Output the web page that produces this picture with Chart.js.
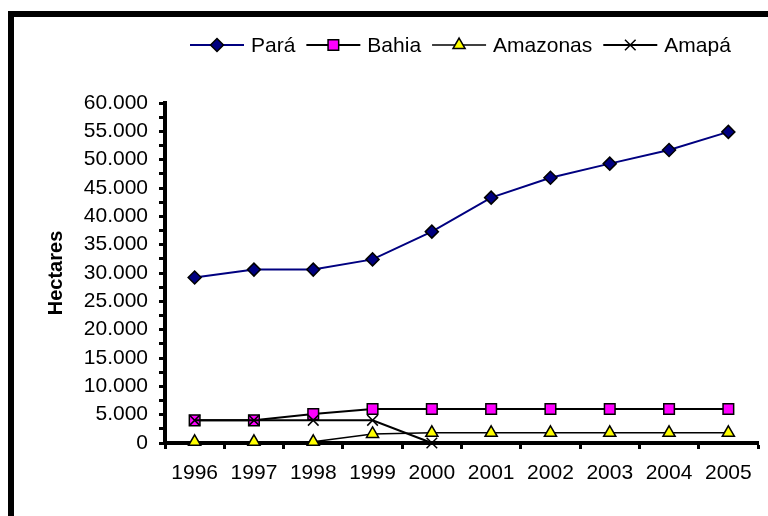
<!DOCTYPE html>
<html>
<head>
<meta charset="utf-8">
<script src="https://cdn.jsdelivr.net/npm/chart.js@4/dist/chart.umd.min.js"></script>
<style>
  html, body { margin: 0; padding: 0; background: #fff; }
  #chart { display: block; }
</style>
</head>
<body>
<canvas id="chart" width="768" height="516"></canvas>
<script>
const years = ["1996", "1997", "1998", "1999", "2000", "2001", "2002", "2003", "2004", "2005"]
const para = [29200, 30600, 30600, 32400, 37300, 43300, 46800, 49300, 51700, 54900]
const bahia = [4000, 4000, 5100, 6000, 6000, 6000, 6000, 6000, 6000, 6000]
const amazonas = [200, 200, 200, 1600, 1800, 1800, 1800, 1800, 1800, 1800]
const amapa = [4000, 4000, 4000, 4000, 0, null, null, null, null, null]
const yMax = 60000
const yStep = 2500
const yLabelStep = 5000

Chart.defaults.font.family = "'Liberation Sans', Arial, sans-serif"
Chart.defaults.font.size = 21
Chart.defaults.color = "#000"

function fmt(v) {
  return String(v).replace(/\B(?=(\d{3})+(?!\d))/g, ".")
}

// frame round the whole chart (cut off on the right and bottom)
const framePlugin = {
  id: "frame",
  beforeDraw(chart) {
    const ctx = chart.ctx
    ctx.save()
    ctx.fillStyle = "#fff"
    ctx.fillRect(0, 0, chart.width, chart.height)
    ctx.strokeStyle = "#000"
    ctx.lineWidth = 6
    ctx.strokeRect(11, 14, 820, 620)
    ctx.restore()
  },
}

// Excel-like legend: line with marker in the middle, then the label
const legendPlugin = {
  id: "excelLegend",
  afterDraw(chart) {
    const ctx = chart.ctx
    let x = 190
    const y = 45
    ctx.save()
    ctx.font = "21px 'Liberation Sans', Arial, sans-serif"
    ctx.textBaseline = "middle"
    chart.data.datasets.forEach((ds) => {
      ctx.strokeStyle = ds.borderColor
      ctx.lineWidth = ds.borderWidth
      ctx.beginPath()
      ctx.moveTo(x, y)
      ctx.lineTo(x + 54, y)
      ctx.stroke()
      ctx.fillStyle = ds.pointBackgroundColor
      ctx.strokeStyle = ds.pointBorderColor
      ctx.lineWidth = ds.pointBorderWidth
      Chart.helpers.drawPoint(ctx, {
        pointStyle: ds.pointStyle,
        radius: ds.pointRadius,
        rotation: 0,
        borderWidth: ds.pointBorderWidth,
      }, x + 27, y)
      ctx.fillStyle = "#000"
      ctx.fillText(ds.label, x + 61, y + 1)
      x += 61 + ctx.measureText(ds.label).width + 11
    })
    ctx.restore()
  },
}

new Chart(document.getElementById("chart"), {
  type: "line",
  data: {
    labels: years,
    datasets: [
      {
        label: "Pará",
        data: para,
        borderColor: "#000080",
        borderWidth: 2,
        pointStyle: "rectRot",
        pointRadius: 6.5,
        pointBackgroundColor: "#000080",
        pointBorderColor: "#000",
        pointBorderWidth: 1.5,
        order: 3,
        clip: false,
      },
      {
        label: "Bahia",
        data: bahia,
        borderColor: "#000",
        borderWidth: 2,
        pointStyle: "rect",
        pointRadius: 7.5,
        pointBackgroundColor: "#ff00ff",
        pointBorderColor: "#000",
        pointBorderWidth: 1.5,
        order: 2,
        clip: false,
      },
      {
        label: "Amazonas",
        data: amazonas,
        borderColor: "#000",
        borderWidth: 1.5,
        pointStyle: "triangle",
        pointRadius: 7,
        pointBackgroundColor: "#ffff00",
        pointBorderColor: "#000",
        pointBorderWidth: 1.5,
        order: 1,
        clip: false,
      },
      {
        label: "Amapá",
        data: amapa,
        borderColor: "#000",
        borderWidth: 2,
        pointStyle: "crossRot",
        pointRadius: 7.5,
        pointBackgroundColor: "#000",
        pointBorderColor: "#000",
        pointBorderWidth: 1.5,
        order: 0,
        clip: false,
        spanGaps: false,
      },
    ],
  },
  options: {
    responsive: false,
    animation: false,
    events: [],
    layout: { padding: { top: 103, right: 10, left: 0, bottom: 0 } },
    plugins: {
      legend: { display: false },
      tooltip: { enabled: false },
      title: { display: false },
    },
    elements: { line: { tension: 0 } },
    scales: {
      x: {
        type: "category",
        offset: true,
        grid: {
          offset: true,
          drawOnChartArea: false,
          drawTicks: true,
          tickLength: 6,
          tickColor: "#000",
          tickWidth: 3,
        },
        border: { color: "#000", width: 4 },
        ticks: { color: "#000", padding: 12, maxRotation: 0, autoSkip: false, font: { size: 21 } },
        afterFit(scale) {
          scale.height = 73
        },
      },
      y: {
        min: 0,
        max: yMax,
        grid: {
          drawOnChartArea: false,
          drawTicks: true,
          tickLength: 6,
          tickColor: "#000",
          tickWidth: 3,
        },
        border: { color: "#000", width: 4 },
        ticks: {
          stepSize: yStep,
          autoSkip: false,
          color: "#000",
          padding: 11,
          font: { size: 21 },
          callback: (v) => (v % yLabelStep === 0 ? fmt(v) : ""),
        },
        title: {
          display: true,
          text: "Hectares",
          color: "#000",
          font: { size: 20, weight: "bold" },
          padding: { top: 44, bottom: 0 },
        },
        afterFit(scale) {
          scale.width = 165
        },
      },
    },
  },
  plugins: [framePlugin, legendPlugin],
})
</script>
</body>
</html>
